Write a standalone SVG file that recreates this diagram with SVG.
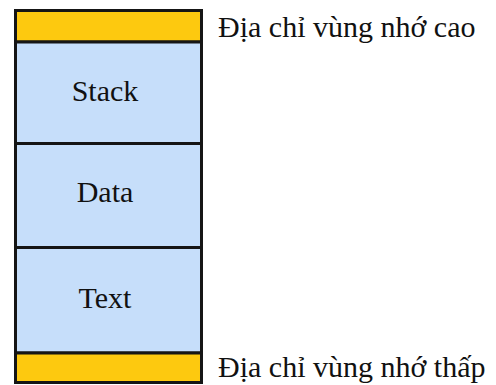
<svg xmlns="http://www.w3.org/2000/svg" width="496" height="385" viewBox="0 0 496 385">
  <rect width="496" height="385" fill="#ffffff"/>
  <!-- memory layout column, top = high addresses; shared stroke set on the wrapper -->
  <g stroke="#151515" stroke-width="3">
    <g id="top-cap">
      <rect x="15.5" y="10.5" width="186" height="31.5" fill="#FDC90F"/>
    </g>
    <g id="stack">
      <rect x="15.5" y="42" width="186" height="101.5" fill="#C6DEFA"/>
      <text x="105" y="101" font-family="Liberation Serif" font-size="30" text-anchor="middle" fill="#111111" stroke="none">Stack</text>
    </g>
    <g id="data">
      <rect x="15.5" y="143.5" width="186" height="104" fill="#C6DEFA"/>
      <text x="105" y="201.5" font-family="Liberation Serif" font-size="30" text-anchor="middle" fill="#111111" stroke="none">Data</text>
    </g>
    <g id="text">
      <rect x="15.5" y="247.5" width="186" height="105.5" fill="#C6DEFA"/>
      <text x="105" y="308" font-family="Liberation Serif" font-size="30" text-anchor="middle" fill="#111111" stroke="none">Text</text>
    </g>
    <g id="bottom-cap">
      <rect x="15.5" y="353" width="186" height="29.5" fill="#FDC90F"/>
    </g>
  </g>
  <!-- address labels -->
  <g id="labels">
    <text x="218" y="37" font-family="Liberation Serif" font-size="30" fill="#111111">Địa chỉ vùng nhớ cao</text>
    <text x="218" y="377" font-family="Liberation Serif" font-size="30" fill="#111111">Địa chỉ vùng nhớ thấp</text>
  </g>
</svg>
